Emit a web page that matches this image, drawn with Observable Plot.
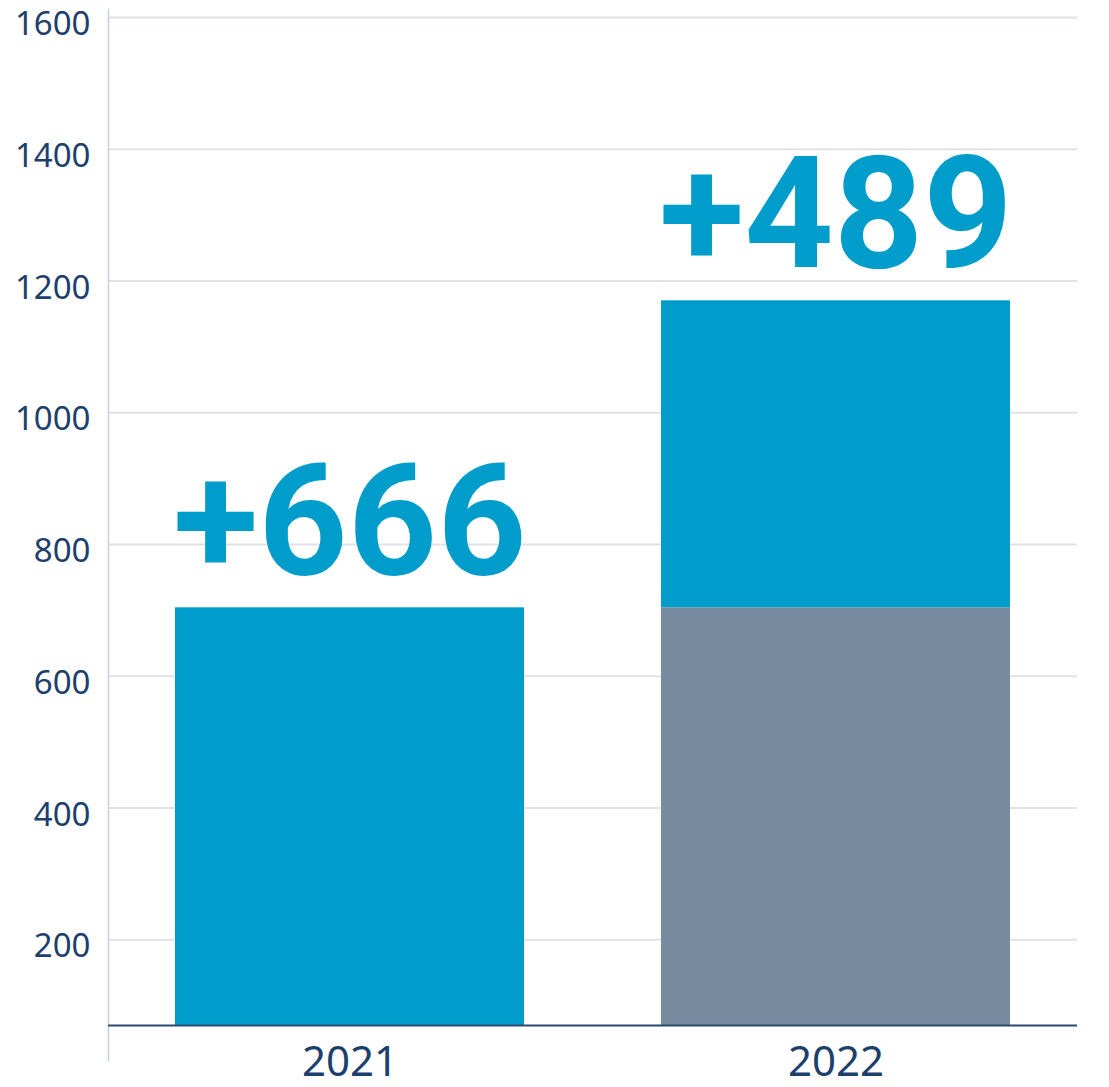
<!DOCTYPE html>
<html>
<head>
<meta charset="utf-8">
<script src="https://cdn.jsdelivr.net/npm/d3@7"></script>
<script src="https://cdn.jsdelivr.net/npm/@observablehq/plot@0.6"></script>
<style>
  body { margin: 0; background: #ffffff; }
  #chart svg { display: block; }
</style>
</head>
<body>
<div id="chart"></div>
<script>
// ---- Data ----
const years = ["2021", "2022"];
const series = ["carried", "added"];
const carriedValues = [0, 704];    // grey part (previous total)
const addedValues = [704, 466];    // blue part
const increaseLabels = ["+666", "+489"];
const yTicks = [200, 400, 600, 800, 1000, 1200, 1400, 1600];
const yDomainMin = 70;

// ---- Table built from arrays ----
const rows = [];
years.forEach((year, i) => {
  rows.push({year, seg: "carried", value: carriedValues[i]});
  rows.push({year, seg: "added", value: addedValues[i]});
});
const totals = years.map((year, i) => ({
  year,
  total: carriedValues[i] + addedValues[i],
  label: increaseLabels[i]
}));

const navy = "#1d3f6c";
const blue = "#009dcb";
const grey = "#778b9f";

const chart = Plot.plot({
  width: 1109,
  height: 1087,
  marginTop: 17,
  marginBottom: 62,
  marginLeft: 108,
  marginRight: 32,
  x: {type: "band", domain: years, paddingInner: 0.281, paddingOuter: 0.1355, label: null},
  y: {domain: [yDomainMin, 1600], label: null},
  color: {domain: series, range: [grey, blue]},
  style: {fontFamily: "'Noto Sans', sans-serif", background: "#ffffff"},
  marks: [
    Plot.gridY(yTicks, {stroke: "#dfe2e6", strokeOpacity: 1, strokeWidth: 2}),
    Plot.frame({anchor: "left", stroke: "#c6d1dd", strokeWidth: 1.5, insetTop: -8, insetBottom: -35}),
    Plot.barY(rows, {x: "year", y: "value", fill: "seg", order: series, clip: true}),
    Plot.ruleY([yDomainMin], {stroke: "#2b4a72", strokeWidth: 2}),
    Plot.text(totals, {
      x: "year", y: "total", text: "label",
      fill: blue, fontSize: 156, fontWeight: 700,
      fontFamily: "Roboto, 'Noto Sans', sans-serif",
      lineAnchor: "bottom", dy: -34
    }),
    Plot.axisY(yTicks, {
      tickSize: 0, tickPadding: 18, fontSize: 33, fill: navy, label: null,
      tickFormat: "d", dy: 7,
      fontFamily: "'Noto Sans', sans-serif"
    }),
    Plot.axisX({
      tickSize: 0, tickPadding: 21, fontSize: 42, fill: navy, label: null,
      fontFamily: "'Noto Sans', sans-serif"
    })
  ]
});

document.getElementById("chart").appendChild(chart);
</script>
</body>
</html>
